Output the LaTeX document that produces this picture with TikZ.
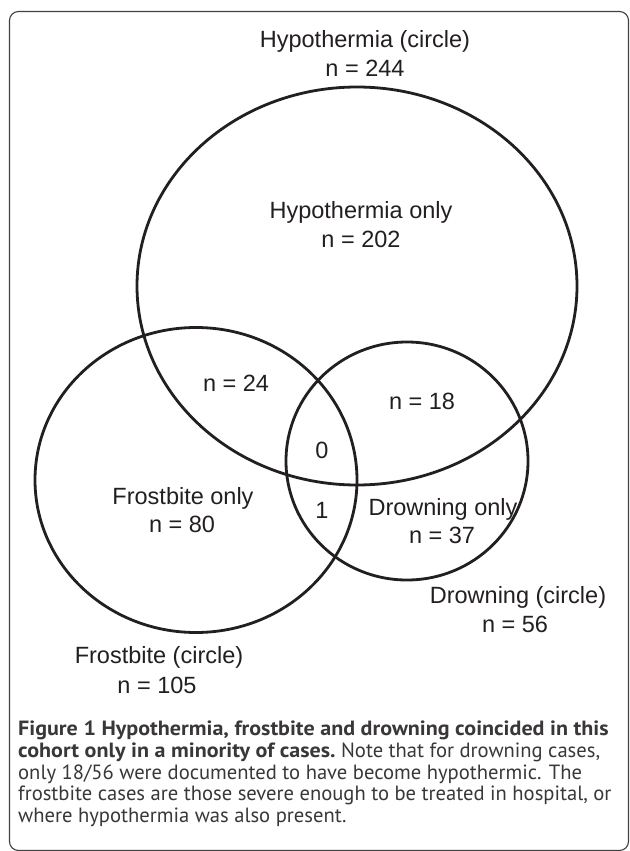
\documentclass[tikz,border=0pt]{standalone}
\usepackage{fontspec}
\setmainfont{Liberation Sans}
\newfontfamily\capfont{PT Sans}
\definecolor{ink}{HTML}{231F20}
\definecolor{capink}{HTML}{3A3738}
\newcommand{\capbold}[1]{\scalebox{1.07}[1]{\bfseries #1}}
\begin{document}
\begin{tikzpicture}[x=1pt,y=-1pt,
  venn/.style={draw=ink,line width=2.8pt},
  lab/.style={anchor=base,inner sep=0pt,text=ink,font=\fontsize{23.5}{27}\selectfont},
  capline/.style={anchor=base west,inner sep=0pt,text=capink,font=\capfont\fontsize{20.6}{23}\selectfont},
  frame/.style={draw=black!75,line width=1.1pt,rounded corners=9pt}]
\useasboundingbox (0,0) rectangle (629,851);
\fill[white] (0,0) rectangle (629,851);
\draw[frame] (9.5,11.5) rectangle (628.5,850.5);
% circles
\draw[venn] (357,286) ellipse [x radius=220, y radius=199];
\draw[venn] (196,480) ellipse [x radius=161, y radius=152.5];
\draw[venn] (407,461) ellipse [x radius=121, y radius=119];
% labels
\node[lab] (hc1) at (365,48) {Hypothermia (circle)};
\node[lab] (hc2) at (365,77) {n = 244};
\node[lab] (ho1) at (361,218) {Hypothermia only};
\node[lab] (ho2) at (361,247) {n = 202};
\node[lab] (hf) at (236,391) {n = 24};
\node[lab] (hd) at (422,409) {n = 18};
\node[lab] (all) at (322,458) {0};
\node[lab] (fd) at (322,518) {1};
\node[lab] (fo1) at (183,504) {Frostbite only};
\node[lab] (fo2) at (182,532) {n = 80};
\node[lab] (do1) at (443,515) {Drowning only};
\node[lab] (do2) at (442,543) {n = 37};
\node[lab] (dc1) at (518,603) {Drowning (circle)};
\node[lab] (dc2) at (515,632) {n = 56};
\node[lab] (fc1) at (159,663) {Frostbite (circle)};
\node[lab] (fc2) at (157,693) {n = 105};
% caption
\node[capline] (c1) at (18,735) {\capbold{Figure 1 Hypothermia, frostbite and drowning coincided in this}};
\node[capline] (c2) at (18,757) {\capbold{cohort only in a minority of cases.} Note that for drowning cases,};
\node[capline] (c3) at (18,779) {only 18/56 were documented to have become hypothermic. The};
\node[capline] (c4) at (18,800) {frostbite cases are those severe enough to be treated in hospital, or};
\node[capline] (c5) at (18,822) {where hypothermia was also present.};
\end{tikzpicture}
\end{document}
